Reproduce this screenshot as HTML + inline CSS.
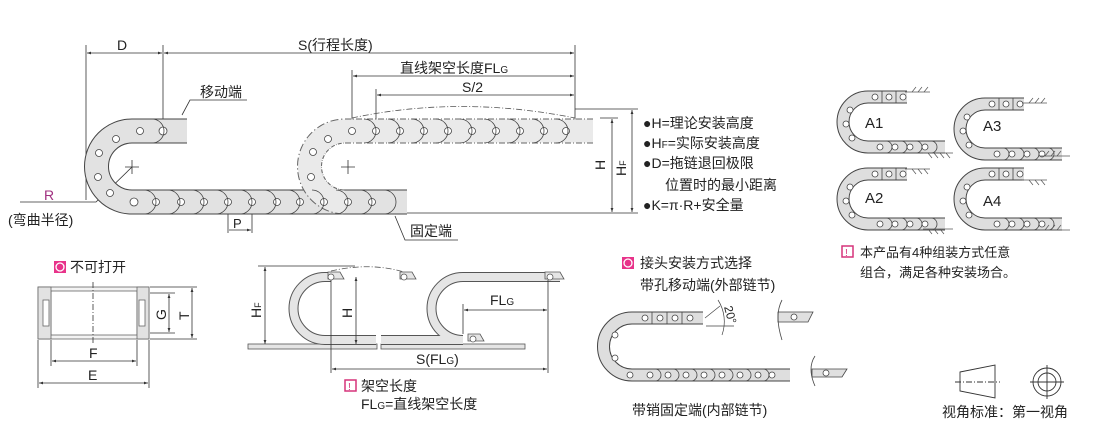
<!DOCTYPE html>
<html><head><meta charset="utf-8"><style>
html,body{margin:0;padding:0;background:#fff}
svg{display:block}
text{font-family:"Liberation Sans","Noto Sans CJK SC",sans-serif;fill:#222}
</style></head><body>
<svg width="1110" height="422" viewBox="0 0 1110 422" xmlns="http://www.w3.org/2000/svg">
<defs>
<marker id="a" viewBox="0 0 10 10" refX="10" refY="5" markerWidth="7" markerHeight="5" orient="auto-start-reverse"><path d="M0,1.5 L10,5 L0,8.5z" fill="#333"/></marker>
</defs>
<g stroke="#333" stroke-width="0.8" fill="none">
<line x1="86" y1="45" x2="86" y2="200"/>
<line x1="163" y1="45" x2="163" y2="131"/>
<line x1="575" y1="45" x2="575" y2="131"/>
<line x1="87" y1="53" x2="162" y2="53" marker-start="url(#a)" marker-end="url(#a)"/>
<line x1="164" y1="53" x2="574" y2="53" marker-start="url(#a)" marker-end="url(#a)"/>
<line x1="352" y1="70" x2="352" y2="131"/>
<line x1="353" y1="76" x2="574" y2="76" marker-start="url(#a)" marker-end="url(#a)"/>
<line x1="376" y1="89" x2="376" y2="131"/>
<line x1="377" y1="95" x2="574" y2="95" marker-start="url(#a)" marker-end="url(#a)"/>
<line x1="600" y1="118" x2="618" y2="118"/>
<line x1="575" y1="109" x2="638" y2="109"/>
<line x1="407" y1="213" x2="638" y2="213"/>
<line x1="612" y1="119" x2="612" y2="212" marker-start="url(#a)" marker-end="url(#a)"/>
<line x1="632" y1="110" x2="632" y2="212" marker-start="url(#a)" marker-end="url(#a)"/>
<line x1="228" y1="205" x2="228" y2="233"/><line x1="252" y1="205" x2="252" y2="233"/>
<line x1="229" y1="230" x2="251" y2="230" marker-end="url(#a)"/>
<polyline points="20,202 96,202 132,167"/>
<polyline points="182,115 190,100 247,100"/>
<polyline points="395,216 405,240 458,240"/>
</g>
<path d="M187,131 L132,131 A35.5,35.5 0 0 0 132,202 L407,202" stroke="#444" stroke-width="25" fill="none"/>
<path d="M187,131 L132,131 A35.5,35.5 0 0 0 132,202 L407,202" stroke="#e2e2e2" stroke-width="23" fill="none"/>
<path d="M593,131 L345,131 A35.5,35.5 0 0 0 345,202" stroke="#666" stroke-width="25" fill="none" stroke-dasharray="6,2,1,2"/>
<path d="M593,131 L345,131 A35.5,35.5 0 0 0 345,202" stroke="#eaeaea" stroke-width="23" fill="none"/>
<path d="M352,118 Q460,95 575,118" stroke="#555" stroke-width="0.8" fill="none" stroke-dasharray="6,2,1,2"/>
<g stroke="#444" stroke-width="0.8" fill="#fff">
<circle cx="163" cy="131" r="4"/><circle cx="140" cy="131" r="3.5"/><circle cx="116" cy="139" r="3.5"/><circle cx="99" cy="153" r="3.5"/><circle cx="98" cy="177" r="3.5"/><circle cx="110" cy="193" r="3.5"/>
<circle cx="134" cy="202" r="4"/><circle cx="156" cy="202" r="3.5"/><circle cx="181" cy="202" r="3.5"/><circle cx="204" cy="202" r="3.5"/><circle cx="228" cy="202" r="3.5"/><circle cx="252" cy="202" r="3.5"/><circle cx="277" cy="202" r="3.5"/><circle cx="300" cy="202" r="3.5"/><circle cx="324" cy="202" r="3.5"/><circle cx="348" cy="202" r="3.5"/><circle cx="372" cy="202" r="3.5"/>
<circle cx="352" cy="131" r="3.5"/><circle cx="376" cy="131" r="3.5"/><circle cx="400" cy="131" r="3.5"/><circle cx="424" cy="131" r="3.5"/><circle cx="448" cy="131" r="3.5"/><circle cx="472" cy="131" r="3.5"/><circle cx="496" cy="131" r="3.5"/><circle cx="520" cy="131" r="3.5"/><circle cx="544" cy="131" r="3.5"/><circle cx="566" cy="131" r="3.5"/><circle cx="328" cy="139" r="3.5"/><circle cx="313" cy="152" r="3.5"/><circle cx="311" cy="177" r="3.5"/>
</g>
<g stroke="#444" stroke-width="0.8" fill="none">
<path d="M144,190 a12,12 0 0 1 0,24 M168,190 a12,12 0 0 1 0,24 M192,190 a12,12 0 0 1 0,24 M216,190 a12,12 0 0 1 0,24 M240,190 a12,12 0 0 1 0,24 M264,190 a12,12 0 0 1 0,24 M288,190 a12,12 0 0 1 0,24 M312,190 a12,12 0 0 1 0,24 M336,190 a12,12 0 0 1 0,24 M360,190 a12,12 0 0 1 0,24 M384,190 a12,12 0 0 1 0,24"/>
<path d="M364,119 a12,12 0 0 1 0,24 M388,119 a12,12 0 0 1 0,24 M412,119 a12,12 0 0 1 0,24 M436,119 a12,12 0 0 1 0,24 M460,119 a12,12 0 0 1 0,24 M484,119 a12,12 0 0 1 0,24 M508,119 a12,12 0 0 1 0,24 M532,119 a12,12 0 0 1 0,24 M556,119 a12,12 0 0 1 0,24 M152,119 a12,12 0 0 1 0,24"/>
<path d="M125,167 h14 M132,160 v14 M341,167 h14 M348,160 v14" stroke="#333"/>
</g>
<text x="117" y="50" font-size="14">D</text>
<text x="298" y="50" font-size="14">S(行程长度)</text>
<text x="400" y="73" font-size="14">直线架空长度FL<tspan font-size="10">G</tspan></text>
<text x="462" y="92" font-size="14">S/2</text>
<text x="200" y="97" font-size="14">移动端</text>
<text x="410" y="236" font-size="14">固定端</text>
<text x="44" y="200" font-size="14" style="fill:#a03080">R</text>
<text x="8" y="225" font-size="14">(弯曲半径)</text>
<text x="233" y="228" font-size="13">P</text>
<text transform="translate(605,170) rotate(-90)" font-size="14">H</text>
<text transform="translate(626,176) rotate(-90)" font-size="14">H<tspan font-size="9">F</tspan></text>
<g font-size="14">
<text x="643" y="128">●H=理论安装高度</text>
<text x="643" y="148">●H<tspan font-size="10">F</tspan>=实际安装高度</text>
<text x="643" y="168">●D=拖链退回极限</text>
<text x="665" y="190">位置时的最小距离</text>
<text x="643" y="210">●K=π·R+安全量</text>
</g>
<g id="c" stroke="#444" stroke-width="0.8">
<path d="M907,97 L868,97 A25,25 0 0 0 868,147 L945,147" stroke="#444" stroke-width="13" fill="none"/>
<path d="M907,97 L868,97 A25,25 0 0 0 868,147 L945,147" stroke="#dedede" stroke-width="11" fill="none"/>
<g fill="#fff"><circle cx="875" cy="97" r="3"/><circle cx="889" cy="97" r="3"/><circle cx="903" cy="97" r="3"/><circle cx="850" cy="110" r="3"/><circle cx="846" cy="124" r="3"/><circle cx="852" cy="138" r="3"/><circle cx="880" cy="147" r="3"/><circle cx="895" cy="147" r="3"/><circle cx="910" cy="147" r="3"/><circle cx="925" cy="147" r="3"/></g>
<path d="M882,91 v12 M896,91 v12 M886,141 a6,6 0 0 1 0,12 M901,141 a6,6 0 0 1 0,12 M916,141 a6,6 0 0 1 0,12 M931,141 a6,6 0 0 1 0,12" fill="none"/>
</g>
<use href="#c" x="0" y="77"/>
<use href="#c" x="117" y="7"/>
<use href="#c" x="117" y="77"/>
<g stroke="#555" stroke-width="0.7">
<path d="M905,92 h25 M923,153 h30 M905,169 h25 M923,229 h30 M1022,103 h25 M1040,156 h30 M1022,180 h25 M1040,230 h30"/>
<path d="M912,92 l4,-5 M918,92 l4,-5 M924,92 l4,-5 M928,153 l4,5 M934,153 l4,5 M940,153 l4,5 M946,153 l4,5 M912,169 l4,5 M918,169 l4,5 M924,169 l4,5 M928,229 l4,5 M934,229 l4,5 M940,229 l4,5 M1029,103 l4,-5 M1035,103 l4,-5 M1041,103 l4,-5 M1045,156 l4,-5 M1051,156 l4,-5 M1057,156 l4,-5 M1029,180 l4,5 M1035,180 l4,5 M1041,180 l4,5 M1045,230 l4,-5 M1051,230 l4,-5 M1057,230 l4,-5"/>
</g>
<g font-size="15"><text x="865" y="128">A1</text><text x="983" y="131">A3</text><text x="865" y="203">A2</text><text x="983" y="206">A4</text></g>
<rect x="842" y="246" width="11" height="11" fill="#fff" stroke="#d6337a" stroke-width="1.5"/><text x="845" y="256" font-size="10" style="fill:#d6337a">!</text>
<text x="860" y="257" font-size="13">本产品有4种组装方式任意</text>
<text x="860" y="277" font-size="13">组合，满足各种安装场合。</text>
<rect x="622" y="257" width="12" height="12" fill="#e8338a"/><circle cx="628" cy="263" r="4" fill="none" stroke="#fff" stroke-width="1.3"/>
<text x="640" y="268" font-size="14">接头安装方式选择</text>
<text x="640" y="290" font-size="14">带孔移动端(外部链节)</text>
<path d="M703,318 L632,318 A28.5,28.5 0 0 0 632,375 L790,375" stroke="#444" stroke-width="13" fill="none"/>
<path d="M703,318 L632,318 A28.5,28.5 0 0 0 632,375 L790,375" stroke="#dedede" stroke-width="11" fill="none"/>
<g stroke="#444" stroke-width="0.8" fill="#fff"><circle cx="645" cy="318" r="3"/><circle cx="660" cy="318" r="3"/><circle cx="675" cy="318" r="3"/><circle cx="690" cy="318" r="3"/><circle cx="615" cy="335" r="3"/><circle cx="615" cy="358" r="3"/><circle cx="630" cy="375" r="3"/><circle cx="650" cy="375" r="3"/><circle cx="668" cy="375" r="3"/><circle cx="686" cy="375" r="3"/><circle cx="704" cy="375" r="3"/><circle cx="722" cy="375" r="3"/><circle cx="740" cy="375" r="3"/><circle cx="758" cy="375" r="3"/><circle cx="772" cy="375" r="3"/>
<path d="M655,369 a6,6 0 0 1 0,12 M673,369 a6,6 0 0 1 0,12 M691,369 a6,6 0 0 1 0,12 M709,369 a6,6 0 0 1 0,12 M727,369 a6,6 0 0 1 0,12 M745,369 a6,6 0 0 1 0,12 M763,369 a6,6 0 0 1 0,12 M652,312 v12 M667,312 v12 M682,312 v12" fill="none"/></g>
<g stroke="#444" stroke-width="0.7" fill="none"><path d="M705,318 L720,306 M706,326 h28 M718,300 A40,40 0 0 1 722,335"/></g>
<text transform="translate(724,307) rotate(75)" font-size="12">20°</text>
<g stroke="#444" stroke-width="0.8">
<path d="M778,312 h35 l-5,10 h-30z M812,369 h35 l-5,8 h-30z" fill="#e0e0e0"/>
<circle cx="794" cy="317" r="3" fill="#fff"/><circle cx="826" cy="373" r="3" fill="#fff"/>
<path d="M782,300 q-8,15 0,40 M815,356 q-8,12 0,30" fill="none"/>
</g>
<text x="632" y="415" font-size="14">带销固定端(内部链节)</text>
<g stroke="#333" stroke-width="0.9" fill="none">
<path d="M960,372 L995,365 L995,398 L960,391z"/><path d="M955,382 h45" stroke-dasharray="6,2,1,2"/>
<circle cx="1047" cy="382" r="14"/><circle cx="1047" cy="382" r="9"/><path d="M1030,382 h34 M1047,365 v34"/>
</g>
<text x="942" y="417" font-size="14">视角标准：第一视角</text>
<rect x="54" y="261" width="12" height="12" fill="#e8338a"/><circle cx="60" cy="267" r="4" fill="none" stroke="#fff" stroke-width="1.3"/>
<text x="70" y="272" font-size="14">不可打开</text>
<g stroke="#666" stroke-width="0.8">
<rect x="38" y="287" width="111" height="52" fill="#f3f3f3"/>
<rect x="51" y="291" width="86" height="44" fill="#fff"/>
<rect x="38" y="287" width="13" height="52" fill="#e2e2e2"/><rect x="137" y="287" width="12" height="52" fill="#e2e2e2"/>
<rect x="43" y="300" width="6" height="26" fill="#fff"/><rect x="139" y="300" width="6" height="26" fill="#fff"/>
</g>
<g stroke="#333" stroke-width="0.8" fill="none">
<line x1="93" y1="282" x2="93" y2="345" stroke-dasharray="6,2,1,2"/>
<line x1="150" y1="293" x2="175" y2="293"/><line x1="150" y1="333" x2="175" y2="333"/>
<line x1="150" y1="287" x2="197" y2="287"/><line x1="150" y1="339" x2="197" y2="339"/>
<line x1="169" y1="294" x2="169" y2="332" marker-start="url(#a)" marker-end="url(#a)"/>
<line x1="192" y1="288" x2="192" y2="338" marker-start="url(#a)" marker-end="url(#a)"/>
<line x1="51" y1="340" x2="51" y2="366"/><line x1="137" y1="340" x2="137" y2="366"/>
<line x1="38" y1="340" x2="38" y2="388"/><line x1="149" y1="340" x2="149" y2="388"/>
<line x1="52" y1="361" x2="136" y2="361" marker-start="url(#a)" marker-end="url(#a)"/>
<line x1="39" y1="383" x2="148" y2="383" marker-start="url(#a)" marker-end="url(#a)"/>
</g>
<text transform="translate(166,320) rotate(-90)" font-size="14">G</text>
<text transform="translate(189,320) rotate(-90)" font-size="14">T</text>
<text x="89" y="358" font-size="14">F</text>
<text x="88" y="380" font-size="14">E</text>
<g stroke="#555" stroke-width="0.8">
<rect x="248" y="344" width="129" height="5" fill="#e5e5e5"/><rect x="381" y="344" width="144" height="5" fill="#e5e5e5"/>
</g>
<path d="M331,277 L325,277 A31.5,31.5 0 0 0 325,340 L376,340" stroke="#555" stroke-width="10" fill="none"/>
<path d="M331,277 L325,277 A31.5,31.5 0 0 0 325,340 L376,340" stroke="#e5e5e5" stroke-width="8" fill="none"/>
<path d="M560,277 L463,277 A31.5,31.5 0 0 0 463,340 L381,340" stroke="#555" stroke-width="10" fill="none"/>
<path d="M560,277 L463,277 A31.5,31.5 0 0 0 463,340 L381,340" stroke="#e5e5e5" stroke-width="8" fill="none"/>
<g stroke="#555" stroke-width="0.8">
<path d="M328,272 h12 l4,7 h-16z M400,272 h12 l4,7 h-16z M545,272 h15 l4,7 h-19z M468,334 h12 l4,7 h-16z" fill="#e5e5e5"/>
<circle cx="331" cy="277" r="3" fill="#fff"/><circle cx="404" cy="277" r="3" fill="#fff"/><circle cx="550" cy="277" r="3" fill="#fff"/><circle cx="473" cy="339" r="3" fill="#fff"/>
<path d="M331,271 Q370,262 404,272" fill="none" stroke-dasharray="6,2,1,2"/>
</g>
<g stroke="#333" stroke-width="0.8" fill="none">
<line x1="258" y1="266" x2="355" y2="266"/>
<line x1="265" y1="267" x2="265" y2="344" marker-start="url(#a)" marker-end="url(#a)"/>
<line x1="356" y1="277" x2="356" y2="344" marker-start="url(#a)" marker-end="url(#a)"/>
<line x1="331" y1="280" x2="331" y2="373"/><line x1="548" y1="280" x2="548" y2="373"/>
<line x1="463" y1="304" x2="463" y2="334"/>
<line x1="464" y1="310" x2="547" y2="310" marker-start="url(#a)" marker-end="url(#a)"/>
<line x1="332" y1="369" x2="547" y2="369" marker-start="url(#a)" marker-end="url(#a)"/>
</g>
<text transform="translate(261,318) rotate(-90)" font-size="14">H<tspan font-size="9">F</tspan></text>
<text transform="translate(352,318) rotate(-90)" font-size="14">H</text>
<text x="490" y="305" font-size="14">FL<tspan font-size="10">G</tspan></text>
<text x="416" y="364" font-size="14">S(FL<tspan font-size="10">G</tspan>)</text>
<rect x="345" y="380" width="11" height="11" fill="#fff" stroke="#d6337a" stroke-width="1.5"/><text x="348" y="390" font-size="10" style="fill:#d6337a">!</text>
<text x="361" y="391" font-size="14">架空长度</text>
<text x="361" y="409" font-size="14">FL<tspan font-size="10">G</tspan>=直线架空长度</text>
</svg>
</body></html>
